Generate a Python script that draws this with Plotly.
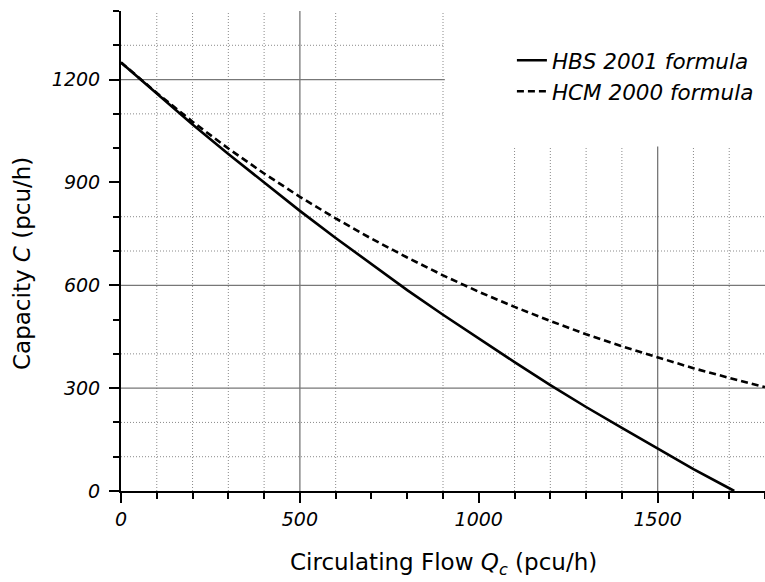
import plotly.graph_objects as go

# ---- data ----
flow_hbs = [0, 100, 200, 300, 400, 500, 600, 700, 800, 900, 1000, 1100, 1200,
            1300, 1400, 1500, 1600, 1700, 1714]
cap_hbs = [1250, 1159, 1069, 983, 899, 817, 738, 661, 586, 514, 444, 376, 309,
           245, 184, 123, 64, 8, 0]

flow_hcm = [0, 100, 200, 300, 400, 500, 600, 700, 800, 900, 1000, 1100, 1200,
            1300, 1400, 1500, 1600, 1700, 1800]
cap_hcm = [1250, 1161, 1077, 999, 926, 858, 795, 736, 681, 629, 581, 537, 496,
           457, 422, 389, 358, 330, 303]

series_names = ["HBS 2001 formula", "HCM 2000 formula"]

x_ticks = [0, 500, 1000, 1500]
y_ticks = [0, 300, 600, 900, 1200]

# grid lines visible in the reference
x_minor_grid = [100, 200, 300, 400, 600, 900, 1100, 1200, 1300, 1400, 1600, 1700]
x_major_grid = [500, 1500]
y_minor_grid = [100, 200, 400, 700, 800, 1100, 1300]
y_major_grid = [300, 600, 1200]

X_MAX = 1800
Y_MAX = 1400

FONT = "DejaVu Sans"

fig = go.Figure()
fig.add_trace(go.Scatter(x=flow_hbs, y=cap_hbs, mode="lines", name=series_names[0],
                         line=dict(color="black", width=2.6)))
fig.add_trace(go.Scatter(x=flow_hcm, y=cap_hcm, mode="lines", name=series_names[1],
                         line=dict(color="black", width=2.6, dash="7px,4px")))

shapes = []
for v in x_minor_grid:
    shapes.append(dict(type="line", xref="x", yref="y", x0=v, x1=v, y0=0, y1=Y_MAX,
                       line=dict(color="#8a8a8a", width=1, dash="1px,2px"), layer="below"))
for v in y_minor_grid:
    shapes.append(dict(type="line", xref="x", yref="y", x0=0, x1=X_MAX, y0=v, y1=v,
                       line=dict(color="#8a8a8a", width=1, dash="1px,2px"), layer="below"))
for v in x_major_grid:
    shapes.append(dict(type="line", xref="x", yref="y", x0=v, x1=v, y0=0, y1=Y_MAX,
                       line=dict(color="#777777", width=1.3), layer="below"))
for v in y_major_grid:
    shapes.append(dict(type="line", xref="x", yref="y", x0=0, x1=X_MAX, y0=v, y1=v,
                       line=dict(color="#777777", width=1.3), layer="below"))
# white legend background area hiding the grid in the top-right
shapes.append(dict(type="rect", xref="x", yref="y", x0=905, x1=X_MAX, y0=1005, y1=Y_MAX,
                   fillcolor="white", line=dict(width=0), layer="below"))

fig.update_layout(
    width=765, height=582,
    margin=dict(l=121, r=0, t=11, b=91, autoexpand=False),
    paper_bgcolor="white", plot_bgcolor="white",
    shapes=shapes,
    font=dict(family=FONT, color="black"),
    showlegend=True,
    legend=dict(x=0.607, y=0.94, xanchor="left", yanchor="top",
                bgcolor="rgba(0,0,0,0)", borderwidth=0,
                font=dict(family=FONT, size=21.5, style="italic", color="black"),
                tracegroupgap=0),
    xaxis=dict(range=[0, X_MAX], showgrid=False, zeroline=False, automargin=False,
               showline=True, linecolor="black", linewidth=2,
               tickmode="array", tickvals=x_ticks,
               ticks="outside", ticklen=10, tickwidth=2, tickcolor="black",
               tickfont=dict(family=FONT, size=19, style="italic"),
               minor=dict(dtick=100, tick0=0, ticks="outside", ticklen=6, tickwidth=1.5,
                          tickcolor="black", showgrid=False)),
    yaxis=dict(range=[0, Y_MAX], showgrid=False, zeroline=False, automargin=False,
               showline=True, linecolor="black", linewidth=2,
               tickmode="array", tickvals=y_ticks,
               ticks="outside", ticklen=10, tickwidth=2, tickcolor="black",
               ticklabelstandoff=5,
               tickfont=dict(family=FONT, size=19, style="italic"),
               minor=dict(dtick=100, tick0=0, ticks="outside", ticklen=6, tickwidth=1.5,
                          tickcolor="black", showgrid=False)),
    annotations=[
        dict(text="Capacity <i>C</i> (pcu/h)", textangle=-90,
             xref="paper", yref="paper", x=0, y=0.5,
             xanchor="center", yanchor="middle",
             xshift=-99, yshift=-13, showarrow=False,
             font=dict(family=FONT, size=23, color="black")),
        dict(text="Circulating Flow <i>Q<sub>c</sub></i> (pcu/h)",
             xref="paper", yref="paper", x=0.5, y=0,
             xanchor="center", yanchor="middle",
             yshift=-73, showarrow=False,
             font=dict(family=FONT, size=23, color="black")),
    ],
)

fig.write_html("out.html")
